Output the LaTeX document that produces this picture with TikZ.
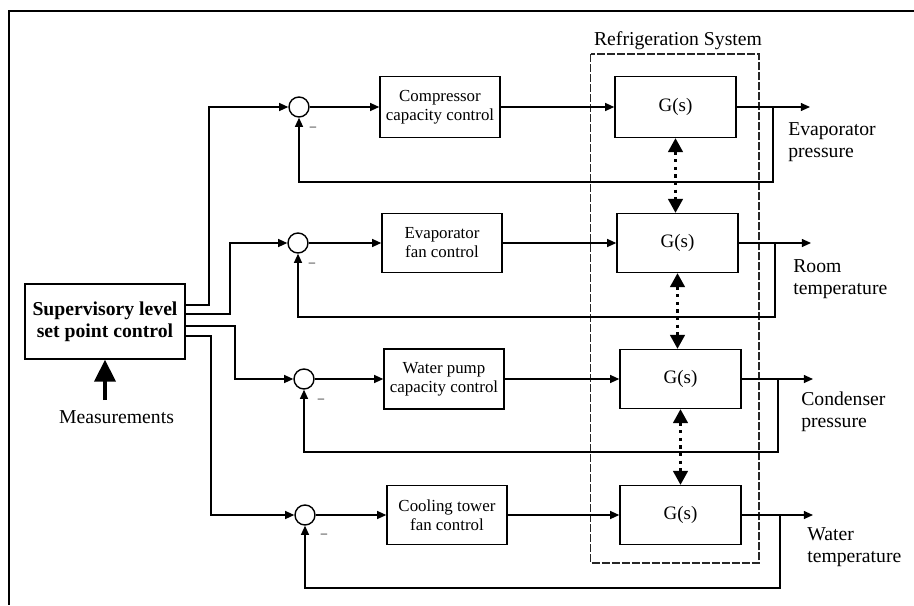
\documentclass[tikz,border=0pt]{standalone}
\usepackage{fontspec}
\setmainfont{Liberation Serif}
\usetikzlibrary{arrows.meta}

\tikzset{
  bloque/.style={draw, line width=1pt, align=center, inner sep=2pt,
                 minimum width=3cm, font=\fontsize{12}{13.5}\selectfont},
  planta/.style={draw, line width=1pt, minimum width=3.025cm,
                 minimum height=1.5cm, font=\fontsize{13.5}{15}\selectfont},
  suma/.style={draw, circle, line width=1pt, minimum size=0.5cm, inner sep=0pt},
  senal/.style={line width=1pt, -{Triangle[length=2.3mm,width=2mm]}},
  acople/.style={line width=1.7pt, dash pattern=on 0.8mm off 1.1mm,
                 {Triangle[length=3.5mm,width=3.7mm]}-{Triangle[length=3.5mm,width=3.7mm]}},
  etiqueta/.style={anchor=west, align=left, inner sep=0pt,
                   font=\fontsize{14}{15.5}\selectfont},
  menos/.style={inner sep=0pt, font=\fontsize{9}{9}\selectfont},
}

\begin{document}
\begin{tikzpicture}[x=0.025cm, y=-0.025cm]
    \useasboundingbox (0,0) rectangle (914,605);

    % Marco
    \draw[line width=1.5pt] (914,11) -- (9,11) -- (9,605);

    % Nivel supervisor
    \node[draw, line width=1pt, minimum width=4cm, minimum height=1.875cm,
          align=center, font=\fontsize{14}{15.6}\selectfont\bfseries]
         (sup) at (105,321.5) {Supervisory level\\set point control};
    \node[inner sep=0pt, font=\fontsize{14}{15.5}\selectfont]
         (meas) at (116.5,417) {Measurements};
    \draw[line width=2.3pt, -{Triangle[length=5.5mm,width=5.3mm]}, shorten <=2.5mm]
         (meas.north -| sup.south) -- (sup.south);

    % Sistema de refrigeracion
    \draw[line width=1.1pt, black!85, dash pattern=on 2mm off 0.5mm]
         (590.5,54) rectangle (759,563);
    \node[font=\fontsize{14}{15.5}\selectfont] (refri) at (678,41) {Refrigeration System};

    % Sumadores
    \node[suma] (s1) at (299,107) {};
    \node[suma] (s2) at (298,243) {};
    \node[suma] (s3) at (304,379) {};
    \node[suma] (s4) at (305,515) {};
    \node[menos] (m1) at (313,129) {–};
    \node[menos] (m2) at (312,265) {–};
    \node[menos] (m3) at (321,401) {–};
    \node[menos] (m4) at (324,536) {–};

    % Controladores
    \node[bloque, minimum height=1.525cm] (c1) at (440,107) {Compressor\\capacity control};
    \node[bloque, minimum height=1.475cm] (c2) at (442,243) {Evaporator\\fan control};
    \node[bloque, minimum height=1.5cm]   (c3) at (444,379) {Water pump\\capacity control};
    \node[bloque, minimum height=1.475cm] (c4) at (447,515) {Cooling tower\\fan control};

    % Plantas G(s)
    \node[planta, minimum height=1.525cm] (g1) at (675.5,107) {G(s)};
    \node[planta, minimum height=1.475cm] (g2) at (677.5,243) {G(s)};
    \node[planta, minimum height=1.475cm] (g3) at (680.5,379) {G(s)};
    \node[planta, minimum height=1.475cm] (g4) at (680.5,515) {G(s)};

    % Salidas y puntos de realimentacion
    \coordinate (y1) at (810,107);  \coordinate (b1) at (773,107);  \coordinate (f1) at (773,182);
    \coordinate (y2) at (811,243);  \coordinate (b2) at (775,243);  \coordinate (f2) at (775,317);
    \coordinate (y3) at (813,379);  \coordinate (b3) at (778,379);  \coordinate (f3) at (778,452);
    \coordinate (y4) at (813,515);  \coordinate (b4) at (780,515);  \coordinate (f4) at (780,588);

    \node[etiqueta] (l1) at (788,142.5) {Evaporator\\pressure};
    \node[etiqueta] (l2) at (793,279)   {Room\\temperature};
    \node[etiqueta] (l3) at (801,411.5) {Condenser\\pressure};
    \node[etiqueta] (l4) at (807,547)   {Water\\temperature};

    % Lazos
    \foreach \i in {1,...,4} {
      \draw[senal] (s\i) -- (c\i);
      \draw[senal] (c\i) -- (g\i);
      \draw[senal] (g\i) -- (y\i);
      \draw[senal] (b\i) -- (f\i) -| (s\i);
    }

    % Consignas del supervisor
    \coordinate (k1) at (209,107);
    \coordinate (k2) at (230,243);
    \coordinate (k3) at (235,379);
    \coordinate (k4) at (211,515);
    \draw[senal] ([yshift=4.125mm]sup.east)  -| (k1) -- (s1);
    \draw[senal] ([yshift=1.875mm]sup.east)  -| (k2) -- (s2);
    \draw[senal] ([yshift=-1.125mm]sup.east) -| (k3) -- (s3);
    \draw[senal] ([yshift=-3.625mm]sup.east) -| (k4) -- (s4);

    % Acoplamientos entre subsistemas
    \draw[acople] (g1.south) -- (g1.south |- g2.north);
    \draw[acople] (g2.south) -- (g2.south |- g3.north);
    \draw[acople] (g3.south) -- (g4.north);
  \end{tikzpicture}
\end{document}
